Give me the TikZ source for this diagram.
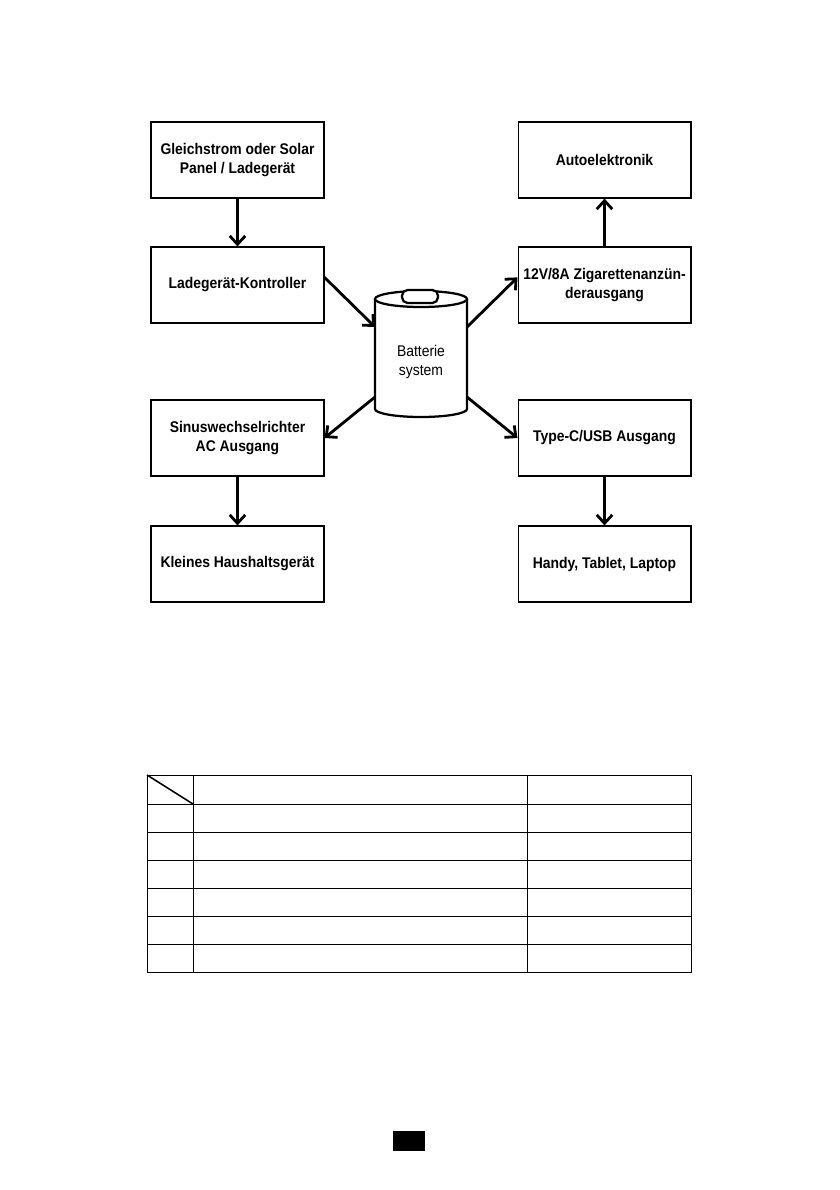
\documentclass[tikz,border=0pt]{standalone}
\usepackage{fontspec}
\setmainfont[FakeStretch=0.9]{Liberation Sans}
\usetikzlibrary{arrows.meta,positioning}

\begin{document}
\begin{tikzpicture}[x=0.025cm,y=-0.025cm,
    box/.style={draw,line width=1.4pt,minimum width=4.3cm,minimum height=1.88cm,inner sep=2pt,
        align=center,font=\fontsize{11}{14}\selectfont\bfseries},
    flow/.style={-{Straight Barb[length=6pt,width=11pt]},line width=2pt},
    grid/.style={line width=0.7pt}]
    \fill[white] (0,0) rectangle (840,1190);
    \useasboundingbox (0,0) rectangle (840,1190);

    \node[box] (gls) at (237.5,160) {Gleichstrom oder Solar\\Panel / Ladegerät};
    \node[box] (ctrl) at (237.5,285) {Ladegerät-Kontroller};
    \node[box] (inv) at (237.5,438) {Sinuswechselrichter\\AC Ausgang};
    \node[box] (home) at (237.5,564) {Kleines Haushaltsgerät};
    \node[box] (auto) at (604.5,160) {Autoelektronik};
    \node[box] (cig) at (604.5,285) {12V/8A Zigarettenanzün-\\derausgang};
    \node[box] (usb) at (604.5,438) {Type-C/USB Ausgang};
    \node[box] (dev) at (604.5,564) {Handy, Tablet, Laptop};

    \draw[line width=1.6pt,fill=white] (375,299) -- (375,409) arc (180:0:46 and 8) -- (467,299);
    \draw[line width=1.6pt,fill=white] (421,299) ellipse (46 and 8);
    \draw[line width=1.6pt,fill=white,rounded corners=4pt] (402,290) rectangle (438,303);
    \node[font=\fontsize{11}{14}\selectfont,align=center] (bat) at (421,362) {Batterie\\system};
    \coordinate (batNW) at (375,327);
    \coordinate (batNE) at (467,327);
    \coordinate (batSW) at (375,397);
    \coordinate (batSE) at (467,397);

    \draw[flow] (gls) -- (ctrl);
    \draw[flow] (inv) -- (home);
    \draw[flow] (cig) -- (auto);
    \draw[flow] (usb) -- (dev);
    \draw[flow] (ctrl.5) -- (batNW);
    \draw[flow] (batNE) -- (cig.175);
    \draw[flow] (batSW) -- (inv.east);
    \draw[flow] (batSE) -- (usb.west);

    \draw[grid] (147,775) rectangle (691,972);
    \foreach \y in {804,832,860,888,916,944}
        \draw[grid] (147,\y) -- (691,\y);
    \draw[grid] (193,775) -- (193,972);
    \draw[grid] (527,775) -- (527,972);
    \draw[line width=1.1pt] (147,775) -- (193,804);

    \fill (393,1131) rectangle (425,1151);
\end{tikzpicture}
\end{document}
